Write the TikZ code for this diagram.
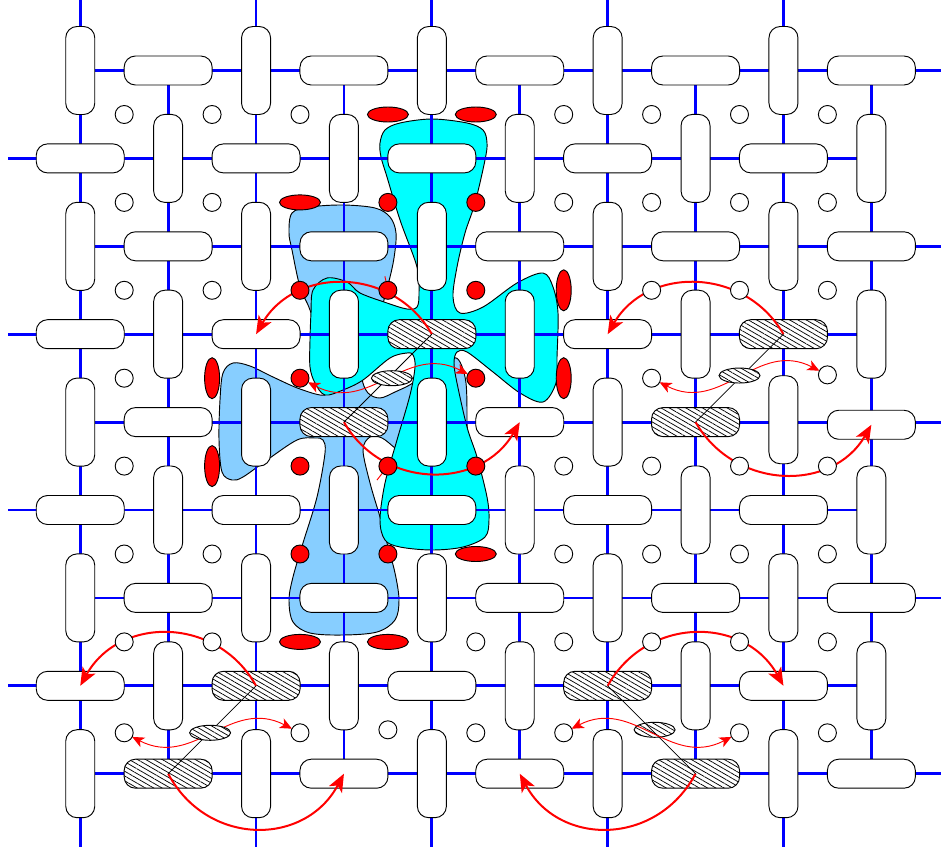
\documentclass[tikz,border=0pt]{standalone}
\usepackage{xcolor}
\usepackage{tikz}
\usetikzlibrary{arrows.meta,shapes.geometric,patterns.meta}
\definecolor{wireblue}{HTML}{0000FF}
\definecolor{armcyan}{HTML}{00FFFF}
\definecolor{armsky}{HTML}{87CEFF}
\definecolor{tokenred}{HTML}{FF0000}
\pgfdeclarelayer{bg}
\pgfdeclarelayer{front}
\pgfsetlayers{bg,main,front}

\begin{document}
\begin{tikzpicture}[
  x=0.75pt,y=-0.75pt,
  wire/.style={draw=wireblue,line width=2.1pt},
  blob/.style={draw=black,line width=0.7pt},
  hatched/.style={preaction={fill=white},pattern={Lines[angle=-30,distance=3.1pt,line width=0.55pt]}},
  pill/.style={draw=black,fill=white,rectangle,rounded corners=8.5pt,inner sep=0pt,outer sep=0pt,line width=0.7pt},
  pill0/.style={pill,minimum width=21.75pt,minimum height=66pt},
  pill1/.style={pill,minimum width=66pt,minimum height=21.75pt},
  hole/.style={draw=black,fill=white,circle,inner sep=0pt,outer sep=0pt,minimum size=13.5pt,line width=0.7pt},
  disc/.style={fill=tokenred},
  flat/.style={ellipse,fill=tokenred,minimum width=30.75pt,minimum height=11.25pt},
  tall/.style={ellipse,fill=tokenred,minimum width=11.25pt,minimum height=30.75pt},
  lens/.style={ellipse,hatched,minimum width=30.75pt,minimum height=11.25pt},
  low/.style={yshift=-2.25pt},
  swing/.style={-{Stealth[length=13.5pt,width=11pt,inset=3.5pt]},draw=tokenred,line width=1.5pt},
  hop/.style={{Stealth[length=9pt,width=8pt,inset=2.5pt]}-{Stealth[length=9pt,width=8pt,inset=2.5pt]},draw=tokenred,line width=0.7pt},
  tick/.style={draw=tokenred,line width=0.7pt},
  link/.style={draw=black,line width=0.6pt},
  h43/.style={hatched},h34/.style={hatched},h83/.style={hatched},h74/.style={hatched},
  h27/.style={hatched},h18/.style={hatched},h67/.style={hatched},h78/.style={hatched},
  h84/.style={yshift=1.75pt},h94/.style={yshift=-2pt},
  c31/.style={disc},c41/.style={disc},c22/.style={disc},c32/.style={disc},c42/.style={disc},c23/.style={disc},
  c43/.style={disc},c24/.style={disc},c34/.style={disc},c44/.style={disc},c25/.style={disc},c35/.style={disc},
  c30/.style={flat},c40/.style={flat},c21/.style={flat},c45/.style={flat},c26/.style={flat},c36/.style={flat},
  c52/.style={tall},c53/.style={tall},c13/.style={tall},c14/.style={tall},
  c33/.style={lens,xshift=3pt},c73/.style={lens,yshift=2pt},c17/.style={lens,low,xshift=-1.5pt},c67/.style={lens,xshift=2.25pt},
  c83/.style={yshift=2.5pt},c07/.style={low},c27/.style={low},c47/.style={low},c57/.style={low},c77/.style={low},c87/.style={low}
]
\useasboundingbox (0,0) rectangle (941,852);
\foreach \i in {0,...,9}
  \foreach \j in {0,...,8} {
    \pgfmathtruncatemacro\kind{mod(\i+\j,2)}
    \node[pill\kind,h\i\j/.try] (bar\i\j) at ({80.25+87.9*\i},{70.5+87.9*\j}) {};
  }
\begin{pgfonlayer}{bg}
\draw[blob,fill=armsky] plot[smooth cycle,tension=0.55] coordinates {
  (343,205) (375,208) (390,217) (396,233) (394,258) (388,285) (378,320) (365,355) (362,378) (368,393)
  (380,398) (395,392) (413,383) (432,368) (452,358) (460,362) (466,383) (467,420) (466,440) (450,462)
  (425,462) (405,455) (395,448) (382,438) (370,437) (363,450) (370,483) (380,517) (387,543) (395,573)
  (399,600) (395,620) (377,632) (343,635) (310,633) (293,622) (289,600) (293,577) (303,543) (317,497)
  (325,453) (323,440) (315,438) (297,440) (267,460) (243,477) (232,480) (222,472) (219,440) (220,400)
  (223,373) (233,363) (250,366) (273,377) (300,389) (325,395) (330,380) (322,350) (310,310) (300,287)
  (292,250) (289,233) (292,213) (310,207)};
\draw[blob,fill=armcyan] plot[smooth cycle,tension=0.55] coordinates {
  (432,119) (467,123) (483,130) (487,143) (485,160) (475,203) (465,233) (457,267) (453,297) (460,313)
  (483,307) (517,283) (543,273) (553,287) (558,313) (557,357) (556,383) (543,402) (520,393) (493,372)
  (467,352) (457,352) (454,363) (457,383) (467,427) (477,457) (487,497) (489,520) (485,537) (463,547)
  (432,550) (400,547) (385,540) (380,520) (385,483) (397,440) (410,395) (415,367) (413,355) (407,353)
  (390,358) (363,380) (343,390) (325,395) (315,383) (310,367) (310,340) (311,313) (313,290) (327,278)
  (347,282) (360,293) (387,303) (407,309) (417,307) (419,293) (417,267) (400,220) (387,177) (381,157)
  (380,143) (385,130) (400,123)};
\foreach \j in {0,2,4,6,8} {
  \coordinate (east\j) at (941,{70.5+87.9*\j});
  \draw[wire] (bar0\j) -- (east\j);
}
\foreach \j in {1,3,5,7} {
  \coordinate (west\j) at (8,{70.5+87.9*\j});
  \draw[wire] (west\j) -- (bar9\j);
}
\foreach \i in {0,2,4,6,8} {
  \coordinate (north\i) at ({80.25+87.9*\i},0);
  \coordinate (south\i) at ({80.25+87.9*\i},847);
  \draw[wire] (north\i) -- (south\i);
}
\foreach \i in {1,3,5,7,9}
  \draw[wire] (bar\i0) -- (bar\i8);
\end{pgfonlayer}
\begin{pgfonlayer}{front}
\foreach \i in {0,...,8}
  \foreach \j in {0,...,7}
    \node[hole,c\i\j/.try] (c\i\j) at ({124.2+87.9*\i},{114.5+87.9*\j}) {};
\draw[link] (bar67.center) -- (bar78.center);
\draw[hop] (c57) .. controls +(70,-36) and +(-70,36) .. (c77);
\end{pgfonlayer}
\foreach \a/\b/\hx/\hy in {43/23/-39/-68,34/54/39/68,83/63/-39/-68,74/94/39/68,27/07/-39/-70,18/38/39/73,67/87/39/-70,78/58/-39/73}
  \draw[swing] (bar\a.center) .. controls +(\hx,\hy) and +({-1*\hx},\hy) .. (bar\b.center);
\draw[link] (bar43.center) -- (bar34.center);
\draw[link] (bar83.center) -- (bar74.center);
\draw[link] (bar27.center) -- (bar18.center);
\draw[hop] (c23) .. controls +(70,36) and +(-70,-36) .. (c43);
\draw[hop] (c63) .. controls +(70,36) and +(-70,-36) .. (c83);
\draw[hop] (c07) .. controls +(70,36) and +(-70,-36) .. (c27);
\draw[tick] (c32) -- ++(-3,-14);
\draw[tick] (c34) -- ++(-11,14);
\end{tikzpicture}
\end{document}
